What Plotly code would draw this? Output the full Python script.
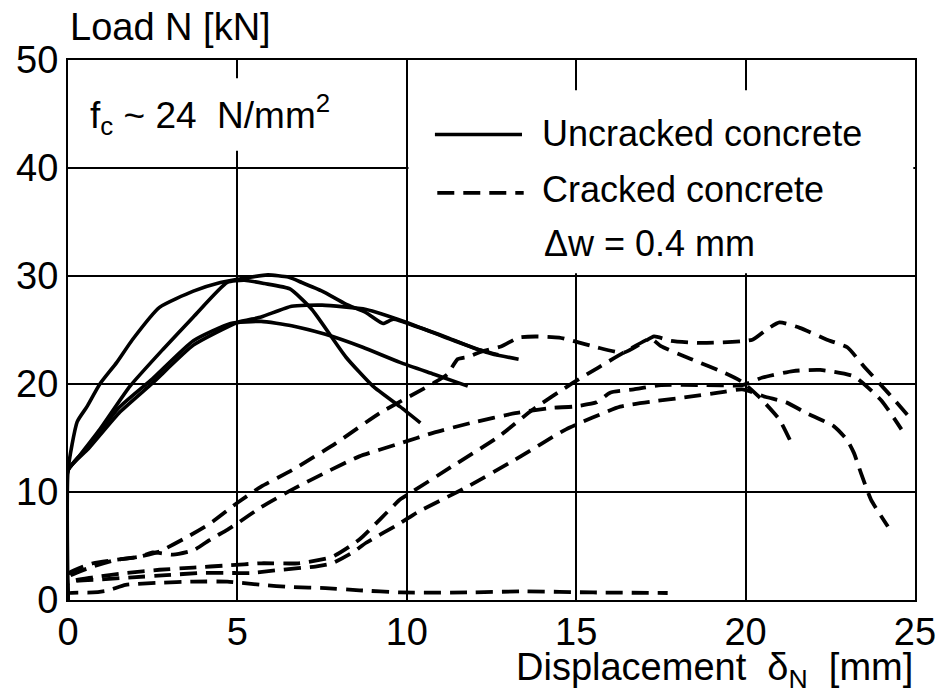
import plotly.graph_objects as go

# ---------------- data ----------------
# Uncracked concrete (solid curves)
unc1_x = [0, 0, 0.27, 0.56, 0.94, 1.44, 1.9, 2.7, 3.7, 4.5, 5.2, 5.9, 6.5, 6.9, 7.5, 8.2, 8.8, 9.3, 9.6, 10.3, 11.2, 12.0, 12.7]
unc1_y = [0, 12, 16.5, 17.9, 20.0, 22.0, 24.1, 27.1, 28.6, 29.4, 29.8, 30.1, 29.9, 29.4, 28.6, 27.4, 26.6, 25.6, 26.0, 25.3, 24.3, 23.3, 22.7]

unc2_x = [0, 0, 0.3, 0.94, 1.83, 2.8, 3.7, 4.7, 5.2, 5.8, 6.55, 7.2, 8.2, 9.0, 9.8, 10.4]
unc2_y = [0, 12, 13.2, 15.8, 19.8, 23.2, 26.2, 29.4, 29.6, 29.3, 28.8, 26.9, 22.5, 19.8, 17.9, 16.4]

unc3_x = [0, 0, 0.6, 1.5, 2.5, 3.7, 5.0, 5.7, 6.6, 7.5, 8.8, 10.0, 11.4, 12.5, 13.3]
unc3_y = [0, 12, 14.0, 17.3, 20.1, 23.6, 25.7, 26.2, 27.2, 27.3, 26.9, 25.7, 24.0, 22.8, 22.3]

unc4_x = [0, 0, 0.6, 1.5, 2.5, 3.7, 4.8, 5.7, 6.6, 7.6, 8.7, 9.8, 10.8, 11.8]
unc4_y = [0, 12, 14.2, 17.8, 20.5, 24.0, 25.6, 25.8, 25.4, 24.6, 23.4, 22.0, 20.9, 19.8]

# Cracked concrete (dashed curves), delta w = 0.4 mm
cr1_x = [0, 0, 0.74, 2.1, 2.7, 3.5, 4.2, 5.0, 5.7, 6.6, 7.9, 9.2, 10.8, 11.2, 11.5, 11.8, 12.2, 12.8, 13.3, 13.8, 14.5, 14.9, 15.6, 16.4, 17.0, 17.3, 17.8, 18.7, 20.2, 20.6, 21.0, 21.6, 22.4, 23.0, 23.5, 24.2, 24.9]
cr1_y = [0, 2.4, 3.4, 4.0, 4.5, 5.8, 7.1, 9.0, 10.5, 12.0, 14.5, 17.3, 20.1, 20.9, 22.3, 22.5, 23.0, 23.5, 24.3, 24.4, 24.3, 24.0, 23.4, 22.9, 23.9, 24.4, 24.0, 23.8, 24.1, 25.0, 25.7, 25.2, 24.1, 23.4, 21.6, 19.2, 16.7]

cr2_x = [0, 0, 0.74, 1.7, 2.7, 3.7, 4.7, 5.7, 6.8, 7.8, 8.6, 9.8, 10.1, 11.3, 12.7, 13.7, 14.9, 16.4, 17.2, 17.5, 18.4, 19.4, 19.9, 20.4, 21.0, 21.4]
cr2_y = [0, 1.6, 2.1, 2.5, 2.8, 3.0, 3.2, 3.4, 3.4, 4.0, 5.6, 9.3, 9.9, 12.3, 15.1, 17.6, 20.1, 22.9, 24.2, 23.5, 22.3, 21.0, 20.2, 18.8, 16.7, 14.2]

cr3_x = [0, 0, 0.74, 1.4, 2.1, 2.5, 3.1, 3.7, 4.2, 4.7, 5.0, 5.7, 6.6, 7.6, 8.6, 9.8, 10.8, 11.9, 13.2, 14.3, 14.9, 15.6, 16.0, 16.7, 17.5, 18.7, 19.9, 20.5, 21.4, 22.2, 23.2, 24.0, 24.6]
cr3_y = [0, 2.1, 3.1, 3.7, 4.0, 4.4, 4.2, 4.6, 5.6, 6.5, 7.1, 8.6, 10.2, 11.8, 13.3, 14.5, 15.5, 16.4, 17.3, 17.8, 17.9, 18.3, 19.2, 19.5, 19.9, 19.9, 19.9, 20.6, 21.2, 21.3, 20.7, 18.5, 15.8]

cr4_x = [0, 0, 0.94, 1.9, 2.9, 3.9, 4.9, 5.4, 6.3, 7.3, 7.8, 8.4, 8.8, 9.8, 10.3, 11.8, 13.2, 14.7, 16.3, 17.3, 18.3, 19.2, 19.9, 20.6, 21.2, 21.8, 22.6, 23.0, 23.2, 23.4, 23.7, 24.2]
cr4_y = [0, 1.6, 1.9, 2.1, 2.3, 2.5, 2.5, 2.5, 2.8, 3.1, 3.4, 4.4, 5.3, 7.1, 8.1, 10.5, 13.0, 15.8, 17.9, 18.4, 18.8, 19.2, 19.5, 18.8, 18.3, 17.3, 16.1, 14.8, 13.6, 11.8, 9.3, 6.8]

cr5_x = [0, 0, 0.74, 1.2, 1.7, 2.7, 3.7, 4.7, 5.7, 6.6, 7.6, 8.6, 9.8, 11.8, 13.5, 15.5, 17.7]
cr5_y = [0, 0.6, 0.7, 0.9, 1.4, 1.6, 1.7, 1.7, 1.4, 1.2, 1.1, 0.9, 0.7, 0.7, 0.8, 0.7, 0.65]

x_ticks = [0, 5, 10, 15, 20, 25]
y_ticks = [0, 10, 20, 30, 40, 50]

uncracked = [(unc1_x, unc1_y), (unc2_x, unc2_y), (unc3_x, unc3_y), (unc4_x, unc4_y)]
cracked = [(cr1_x, cr1_y), (cr2_x, cr2_y), (cr3_x, cr3_y), (cr4_x, cr4_y), (cr5_x, cr5_y)]

FONT = "Arial, Liberation Sans, Helvetica, sans-serif"
DASH = "17px,9px"

fig = go.Figure()
for x, y in uncracked:
    fig.add_trace(go.Scatter(x=x, y=y, mode="lines", showlegend=False, hoverinfo="skip",
                             line=dict(color="black", width=3.6, shape="spline", smoothing=0.5)))
for x, y in cracked:
    fig.add_trace(go.Scatter(x=x, y=y, mode="lines", showlegend=False, hoverinfo="skip",
                             line=dict(color="black", width=3.8, dash=DASH, shape="spline", smoothing=0.5)))

shapes = [
    # white boxes behind the text blocks (interrupt the grid)
    dict(type="rect", xref="x", yref="y", x0=0.05, x1=9.95, y0=41.6, y1=48.3,
         fillcolor="white", line=dict(width=0), layer="between"),
    dict(type="rect", xref="x", yref="y", x0=10.05, x1=24.95, y0=30.25, y1=47.2,
         fillcolor="white", line=dict(width=0), layer="between"),
    # legend samples
    dict(type="line", xref="x", yref="y", x0=10.83, x1=13.4, y0=43.1, y1=43.1,
         line=dict(color="black", width=3.6)),
    dict(type="line", xref="x", yref="y", x0=10.9, x1=13.45, y0=37.7, y1=37.7,
         line=dict(color="black", width=3.8, dash=DASH)),
]

annotations = [
    dict(text="Load N [kN]", xref="paper", yref="paper", x=0.0, y=1.061,
         xanchor="left", yanchor="middle", showarrow=False, font=dict(size=38, color="black", family=FONT)),
    dict(text="Displacement  δ<sub>N</sub>  [mm]", xref="paper", yref="paper", x=1.0, y=-0.13,
         xanchor="right", yanchor="middle", showarrow=False, font=dict(size=38, color="black", family=FONT)),
    dict(text="f<sub>c</sub> ~ 24  N/mm<sup>2</sup>", xref="x", yref="y", x=0.59, y=45.0,
         xanchor="left", yanchor="middle", showarrow=False, font=dict(size=37, color="black", family=FONT)),
    dict(text="Uncracked concrete", xref="x", yref="y", x=13.93, y=43.2,
         xanchor="left", yanchor="middle", showarrow=False, font=dict(size=36, color="black", family=FONT)),
    dict(text="Cracked concrete", xref="x", yref="y", x=13.93, y=38.0,
         xanchor="left", yanchor="middle", showarrow=False, font=dict(size=36, color="black", family=FONT)),
    dict(text="Δw = 0.4 mm", xref="x", yref="y", x=13.99, y=33.0,
         xanchor="left", yanchor="middle", showarrow=False, font=dict(size=36, color="black", family=FONT)),
]

axis_common = dict(showgrid=True, gridcolor="black", gridwidth=1.5, zeroline=False,
                   showline=True, linecolor="black", linewidth=2, mirror=True, automargin=False,
                   ticks="", tickfont=dict(size=38, color="black", family=FONT))

fig.update_layout(
    width=938, height=693, margin=dict(l=68, r=23, t=60, b=93, autoexpand=False),
    paper_bgcolor="white", plot_bgcolor="white",
    shapes=shapes, annotations=annotations, showlegend=False,
    xaxis=dict(range=[0, 25], tickmode="array", tickvals=x_ticks, ticktext=[str(v) for v in x_ticks],
               ticklabelstandoff=-3, **axis_common),
    yaxis=dict(range=[0, 50], tickmode="array", tickvals=y_ticks, ticktext=[str(v) for v in y_ticks], **axis_common),
)

fig.write_html("out.html")
